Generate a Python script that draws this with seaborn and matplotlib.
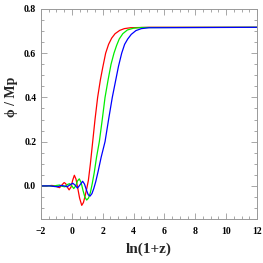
import matplotlib
matplotlib.use('Agg')
import matplotlib.pyplot as plt
import seaborn as sns
from matplotlib.ticker import MultipleLocator

# phi/Mp against ln(1+z), three runs
red_x = [-2.0, -1.6, -1.3, -1.1, -0.95, -0.8, -0.65, -0.5, -0.4, -0.3, -0.18, -0.05,
         0.05, 0.16, 0.27, 0.38, 0.5, 0.64, 0.75, 0.86, 0.97, 1.07, 1.2, 1.35, 1.5,
         1.67, 1.85, 2.0, 2.19, 2.38, 2.58, 2.8, 3.1, 3.4, 3.8, 5.0, 12.0]
red_y = [0.0, 0.0, 0.002, 0.0, -0.004, -0.008, 0.004, 0.015, 0.01, -0.005, -0.018, -0.005,
         0.025, 0.048, 0.03, -0.01, -0.055, -0.088, -0.075, -0.045, -0.01, 0.025, 0.1, 0.2, 0.3,
         0.4, 0.48, 0.535, 0.6, 0.64, 0.668, 0.688, 0.703, 0.711, 0.715, 0.717, 0.717]

green_x = [-2.0, -1.5, -1.2, -1.0, -0.8, -0.62, -0.45, -0.3, -0.15, 0.0, 0.12, 0.25,
           0.36, 0.48, 0.6, 0.72, 0.84, 0.96, 1.08, 1.2, 1.32, 1.45, 1.6, 1.78, 1.97,
           2.15, 2.35, 2.54, 2.73, 2.9, 3.07, 3.3, 3.6, 4.0, 4.5, 12.0]
green_y = [0.0, 0.0, -0.002, 0.002, 0.004, -0.002, -0.004, 0.006, 0.01, 0.0, -0.012, 0.0,
           0.022, 0.032, 0.015, -0.02, -0.05, -0.064, -0.055, -0.03, 0.01, 0.06, 0.13, 0.2, 0.3,
           0.4, 0.48, 0.55, 0.6, 0.635, 0.664, 0.688, 0.705, 0.713, 0.716, 0.717]

blue_x = [-2.0, -1.4, -1.1, -0.9, -0.7, -0.5, -0.3, -0.1, 0.06, 0.2, 0.36, 0.52,
          0.7, 0.82, 0.95, 1.06, 1.18, 1.3, 1.42, 1.55, 1.7, 1.9, 2.15, 2.38, 2.62,
          2.82, 3.02, 3.23, 3.42, 3.62, 3.85, 4.15, 4.5, 5.0, 12.0]
blue_y = [0.0, 0.0, -0.003, -0.004, 0.002, 0.0, -0.004, 0.006, 0.012, 0.004, -0.01, 0.004,
          0.021, 0.008, -0.02, -0.04, -0.046, -0.035, -0.012, 0.02, 0.065, 0.13, 0.2, 0.3, 0.4,
          0.47, 0.54, 0.6, 0.64, 0.664, 0.685, 0.702, 0.711, 0.715, 0.717]

xticks = [-2, 0, 2, 4, 6, 8, 10, 12]
xtick_labels = ['\u22122', '0', '2', '4', '6', '8', '10', '12']
yticks = [0.0, 0.2, 0.4, 0.6, 0.8]
ytick_labels = ['0.0', '0.2', '0.4', '0.6', '0.8']

sns.set_style('ticks')
plt.rcParams['font.family'] = ['Liberation Serif', 'DejaVu Serif']
plt.rcParams['font.weight'] = 'bold'

fig = plt.figure(figsize=(2.63, 2.63), dpi=100)
ax = fig.add_axes([0.156, 0.167, 0.821, 0.799])

sns.lineplot(x=red_x, y=red_y, color='#ff0000', lw=0.9, ax=ax, sort=False)
sns.lineplot(x=green_x, y=green_y, color='#00ee00', lw=0.9, ax=ax, sort=False)
sns.lineplot(x=blue_x, y=blue_y, color='#0000ff', lw=0.9, ax=ax, sort=False)

ax.set_xlim(-2, 12)
ax.set_ylim(-0.15, 0.8)
ax.set_xticks(xticks)
ax.set_xticklabels(xtick_labels)
ax.set_yticks(yticks)
ax.set_yticklabels(ytick_labels)
ax.xaxis.set_minor_locator(MultipleLocator(0.5))
ax.yaxis.set_minor_locator(MultipleLocator(0.05))
ax.tick_params(which='both', direction='in', top=True, right=True, colors='#999999',
               labelcolor='black', labelsize=7, width=0.6)
ax.tick_params(which='major', length=4)
ax.tick_params(which='minor', length=2)
ax.tick_params(axis='x', pad=6)
for lab in ax.get_xticklabels() + ax.get_yticklabels():
    lab.set_fontweight('bold')
for sp in ax.spines.values():
    sp.set_color('#999999')
    sp.set_linewidth(0.7)

ax.set_xlabel('ln(1+z)', fontsize=11, fontweight='bold')
ax.set_ylabel('\u03d5 / Mp', fontsize=10, fontweight='bold')
ax.xaxis.set_label_coords(0.5, -0.11)
ax.yaxis.set_label_coords(-0.105, 0.58)

fig.savefig('out.png', dpi=100)
plt.close(fig)
